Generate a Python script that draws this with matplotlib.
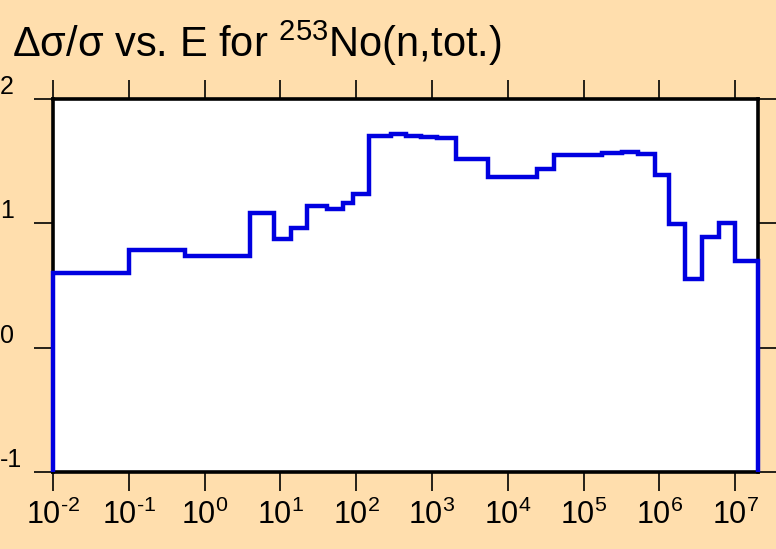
import numpy as np
import matplotlib
matplotlib.use("Agg")
import matplotlib.pyplot as plt
from matplotlib.transforms import blended_transform_factory, ScaledTranslation

# ─── DATA ─────────────────────────────────────────────────────────────────────
# group boundaries (eV) and log10 of relative uncertainty in each group
edges = [1e-2, 0.1, 0.55, 4.0, 8.3, 13.8, 22.4, 40.7, 67, 91, 148,
         287, 451, 710, 1160, 2050, 5500, 2.43e4, 4.03e4, 1.05e5,
         1.74e5, 3.2e5, 5.2e5, 8.7e5, 1.33e6, 2.2e6, 3.6e6, 6.1e6,
         1e7, 2e7]
vals = [0.597, 0.787, 0.739, 1.087, 0.878, 0.961, 1.14, 1.114, 1.167,
        1.237, 1.705, 1.716, 1.70, 1.692, 1.684, 1.52, 1.375, 1.435,
        1.55, 1.553, 1.564, 1.572, 1.558, 1.387, 0.996, 0.55, 0.894,
        1.0, 0.70]
x_ticks = [1e-2, 1e-1, 1e0, 1e1, 1e2, 1e3, 1e4, 1e5, 1e6, 1e7]
x_exps = ["-2", "-1", "0", "1", "2", "3", "4", "5", "6", "7"]
y_ticks = [-1, 0, 1, 2]
y_labels = ["-1", "0", "1", "2"]

BG = "#FFDEAD"

plt.rcParams["font.family"] = ["Liberation Sans", "DejaVu Sans"]
plt.rcParams["mathtext.fontset"] = "custom"
plt.rcParams["mathtext.rm"] = "Liberation Sans"
plt.rcParams["mathtext.it"] = "Liberation Sans"
plt.rcParams["mathtext.bf"] = "Liberation Sans:bold"

fig = plt.figure(figsize=(7.76, 5.49), dpi=100, facecolor=BG)
ax = fig.add_axes([53/776, 1-472/549, 705/776, 373/549])
ax.set_facecolor("white")

ax.stairs(vals, edges, baseline=-1, color="#0000E0", lw=3.2,
          zorder=4, clip_on=False)

ax.set_xscale("log")
ax.set_xlim(1e-2, 2e7)
ax.set_ylim(-1, 2)
ax.minorticks_off()

ax.set_xticks(x_ticks)
ax.set_xticklabels([r"$\mathregular{10^{\text{%s}}}$" % e for e in x_exps],
                   fontsize=22)
ax.set_yticks(y_ticks)
ax.set_yticklabels([])

ax.tick_params(which="major", direction="out", length=14, width=1.2,
               top=True, right=True, pad=6, colors="black")
for sp in ax.spines.values():
    sp.set_linewidth(2.6)
    sp.set_zorder(3)

# y labels sit a bit above their ticks at the very left of the figure
tr = blended_transform_factory(fig.transFigure, ax.transData) + \
     ScaledTranslation(0, 12/100, fig.dpi_scale_trans)
for v, lab in zip(y_ticks, y_labels):
    fig.text(0.0, v, lab, transform=tr, fontsize=18, ha="left", va="center")

fig.text(12/776, 1-57/549, r"Δσ/σ vs. E for $\mathregular{^{253}}$No(n,tot.)",
         fontsize=30, ha="left", va="baseline")

fig.savefig("out.png", dpi=100, facecolor=BG)
